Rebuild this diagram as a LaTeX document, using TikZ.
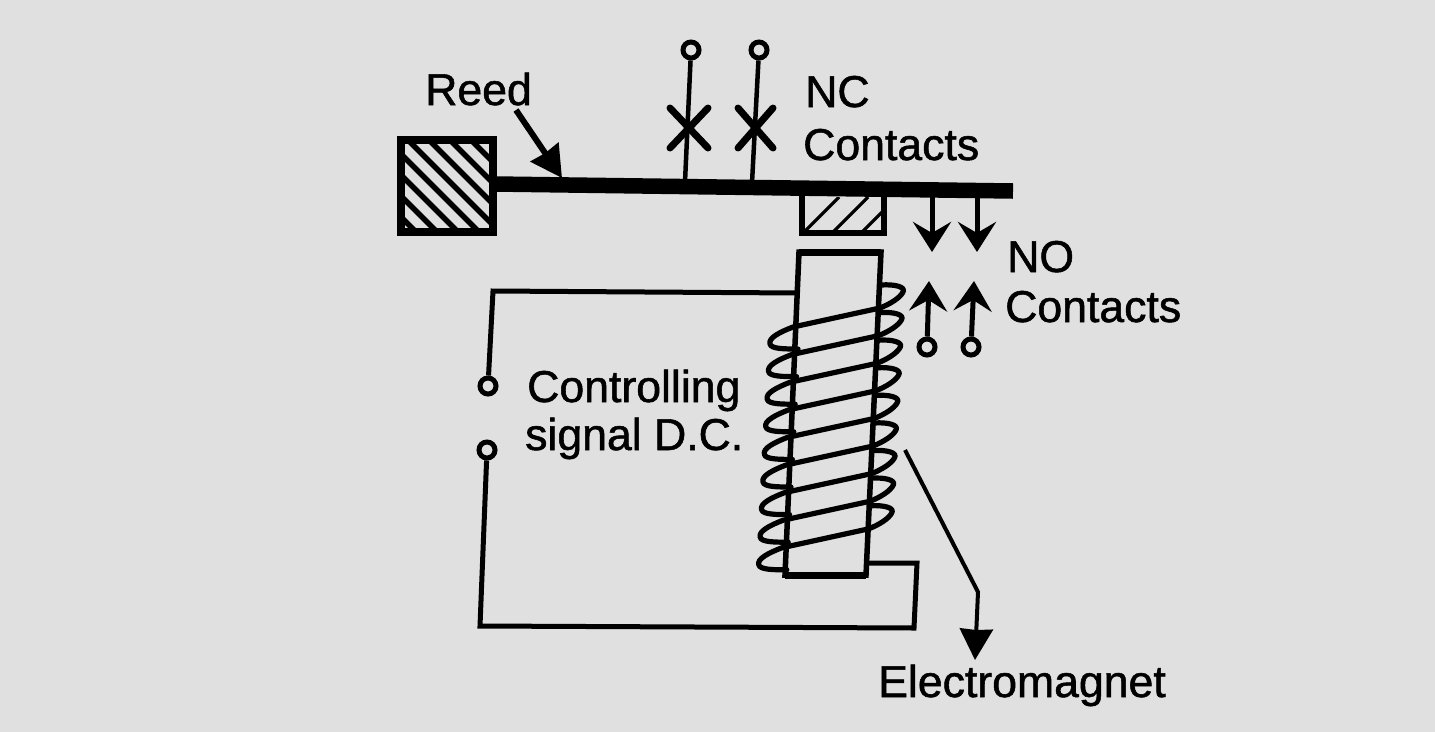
\documentclass[tikz,border=0pt]{standalone}
\usepackage{fontspec}
\setmainfont[FakeBold=1.2]{Liberation Sans}
\usetikzlibrary{arrows.meta,positioning}
\definecolor{scanbg}{HTML}{E0E0E0}
\tikzset{
    wire/.style = {line width = 5pt, line join = miter},
    coilwire/.style = {line width = 5.2pt, line join = round, line cap = round},
    terminal/.style = {draw, circle, line width = 5pt, inner sep = 0pt, minimum size = 16pt},
    textlbl/.style = {anchor = base west, inner sep = 0pt, font = \fontsize{44.6}{44.6}\selectfont},
    contact/.style = {line width = 5pt, -{Stealth[length = 30pt, width = 38pt, inset = 11pt]}},
    pointer/.style = {line width = 6pt, -{Stealth[length = 31pt, width = 33pt, inset = 1pt]}}
}
\begin{document}
\begin{tikzpicture}[x = 1pt, y = -1pt]
    \useasboundingbox[fill = scanbg] (0,0) rectangle (1435,732);

    % Fixed block of the reed
    \begin{scope}
        \clip (401,140) rectangle (492,232);
        \foreach \c in {-77,-56,-35,-14,7,28,49,70,91}
            \draw[line width = 5.5pt] (397+\c,136) -- ++(100,100);
    \end{scope}
    \node[draw, line width = 8pt, minimum size = 92pt, inner sep = 0pt] (reed_block) at (446.5,186) {};

    % Reed
    \coordinate (reed_root) at (495,184);
    \coordinate (reed_end) at (1013,191);
    \draw[line width = 15.5pt] (reed_root) -- (reed_end);

    % Armature
    \begin{scope}
        \clip (802,197) rectangle (884,233);
        \foreach \c in {0,29,58}
            \draw[line width = 3.2pt] (803+\c,233) -- ++(36,-36);
    \end{scope}
    \coordinate (arm_tl) at (802,195);
    \coordinate (arm_tr) at (884,195);
    \coordinate (arm_bl) at (802,233);
    \coordinate (arm_br) at (884,233);
    \draw[line width = 6pt] (arm_tl) -- (arm_bl) -- (arm_br) -- (arm_tr);

    % NC contacts
    \node[terminal] (nc_a) at (691,50) {};
    \node[terminal] (nc_b) at (759,50) {};
    \coordinate (nc_a_foot) at (685,182);
    \coordinate (nc_b_foot) at (752,183);
    \draw[line width = 4.5pt] (nc_a) -- (nc_a_foot);
    \draw[line width = 4.5pt] (nc_b) -- (nc_b_foot);
    \draw[line width = 7pt, line cap = round] (670,108) -- (708,148) (708,108) -- (670,148);
    \draw[line width = 7pt, line cap = round] (738,108) -- (773,148) (773,108) -- (738,148);

    % NO contacts
    \coordinate (no_a_top) at (932,196);
    \coordinate (no_b_top) at (977,196);
    \coordinate (no_a_tip) at (932,252);
    \coordinate (no_b_tip) at (977,252);
    \node[terminal] (no_a) at (927,347) {};
    \node[terminal] (no_b) at (971,347) {};
    \coordinate (no_c_tip) at (929,281);
    \coordinate (no_d_tip) at (974,281);
    \draw[contact] (no_a_top) -- (no_a_tip);
    \draw[contact] (no_b_top) -- (no_b_tip);
    \draw[contact] (no_a) -- (no_c_tip);
    \draw[contact] (no_b) -- (no_d_tip);

    % Core
    \coordinate (core_tl) at (799,252);
    \coordinate (core_tr) at (881,252);
    \coordinate (core_br) at (866,575);
    \coordinate (core_bl) at (785,575);
    \draw[line width = 5.5pt, line join = miter] (core_tl) -- (core_tr) -- (core_br) -- (core_bl) -- cycle;
    \draw[line width = 7pt] (core_tl) -- (core_tr);
    \draw[line width = 7pt] (core_bl) -- (core_br);

    % Turns of the coil
    \foreach \i in {0,...,8}{
        \begin{scope}[shift = {(-1.4*\i,27.6*\i)}]
            \draw[coilwire] (881,285) .. controls (895,284) and (906,287) .. (903,292)
                .. controls (900,298) and (890,304) .. (880,308) -- (793,327)
                .. controls (780,332) and (768,338) .. (770,344)
                .. controls (771,349) and (785,349) .. (798,349);
        \end{scope}
    }

    % Controlling signal
    \node[terminal] (sig_top) at (488,386) {};
    \node[terminal] (sig_bot) at (487,450) {};
    \coordinate (core_in) at (799,293);
    \coordinate (core_out) at (868,563);
    \draw[wire] (sig_top) -- (493,291) -- (core_in);
    \draw[wire] (sig_bot) -- (480,626) -- (914,628) -- (917,563) -- (core_out);

    % Pointers
    \coordinate (reed_from) at (516,110);
    \coordinate (reed_tip) at (562,178);
    \draw[pointer] (reed_from) -- (reed_tip);
    \coordinate (em_from) at (905,450);
    \coordinate (em_bend) at (978,592);
    \coordinate (em_tip) at (975,660);
    \draw[pointer, line width = 4pt] (em_from) -- (em_bend) -- (em_tip);

    % Labels
    \node[textlbl] (reed_lbl) at (425,105) {Reed};
    \node[textlbl] (nc_lbl) at (805,107) {NC};
    \node[textlbl] (nc_lbl2) at (803,160) {Contacts};
    \node[textlbl] (no_lbl) at (1007,272) {NO};
    \node[textlbl] (no_lbl2) at (1005,322) {Contacts};
    \node[textlbl] (sig_lbl) at (527,402) {Controlling};
    \node[textlbl] (sig_lbl2) at (525,450) {signal D.C.};
    \node[textlbl] (em_lbl) at (878,697) {Electromagnet};
\end{tikzpicture}
\end{document}
